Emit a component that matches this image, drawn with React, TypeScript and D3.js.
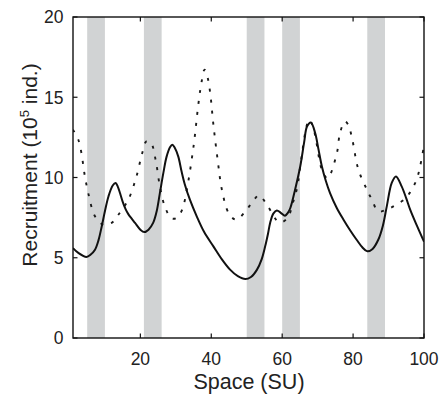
import React from "react";
import * as d3 from "d3";

const bands: [number, number][] = [[5, 10], [21, 26], [50, 55], [60, 65], [84, 89]];

const solidX = [1, 2.5, 4.8, 6.0, 7.2, 8.2, 9.1, 10.0, 11.0, 12.2, 13.0, 13.6, 14.3, 15.0, 15.8, 16.6, 17.5, 18.5, 20.0, 21.1, 22.3, 23.6, 24.6, 25.5, 26.5, 27.4, 28.4, 29.0, 29.7, 30.7, 31.6, 32.5, 34.0, 35.9, 38.0, 40.6, 43.0, 45.3, 47.5, 49.6, 51.2, 52.9, 54.2, 55.2, 56.0, 56.6, 57.5, 58.5, 59.6, 60.8, 61.6, 62.3, 63.7, 65.1, 66.2, 67.0, 68.1, 69.3, 70.2, 71.2, 72.3, 73.5, 75.4, 77.3, 79.2, 81.0, 82.6, 84.0, 85.5, 87.1, 88.4, 89.5, 90.9, 92.1, 93.7, 95.0, 96.1, 98.0, 100];
const solidY = [5.6, 5.3, 5.05, 5.2, 5.5, 6.1, 6.95, 7.9, 8.82, 9.5, 9.66, 9.45, 9.0, 8.5, 8.05, 7.72, 7.45, 7.17, 6.75, 6.6, 6.75, 7.17, 7.9, 9.03, 10.3, 11.3, 11.9, 12.04, 11.85, 11.3, 10.4, 9.6, 8.6, 7.58, 6.6, 5.71, 4.9, 4.26, 3.85, 3.67, 3.8, 4.26, 4.9, 5.71, 6.5, 7.17, 7.75, 7.95, 7.8, 7.62, 7.8, 8.1, 9.3, 10.7, 12.2, 13.18, 13.43, 12.77, 11.8, 10.69, 9.8, 9.03, 8.1, 7.37, 6.7, 6.12, 5.65, 5.4, 5.55, 6.12, 7.0, 8.2, 9.66, 10.07, 9.45, 8.7, 8.0, 7.0, 6.0];

const dottedX = [1, 2.5, 3.4, 4.2, 5.3, 7.2, 9.5, 11.9, 13.8, 16.6, 18.9, 20.5, 21.7, 23.0, 24.3, 25.5, 26.9, 28.8, 30.3, 31.8, 33.1, 35.0, 36.4, 37.3, 38.1, 39.0, 39.7, 40.6, 41.8, 43.0, 44.9, 47.0, 50.0, 52.0, 53.5, 55.7, 59.2, 61.5, 63.0, 64.3, 65.1, 67.0, 67.7, 69.0, 71.2, 72.8, 75.4, 76.3, 77.7, 78.6, 79.6, 81.5, 83.9, 85.3, 87.1, 89.5, 92.1, 94.7, 96.5, 97.9, 98.9, 100];
const dottedY = [12.98, 12.35, 11.5, 10.28, 9.03, 7.58, 7.06, 7.17, 7.68, 8.62, 10.07, 11.5, 12.25, 12.15, 11.1, 9.45, 8.2, 7.45, 7.5, 8.0, 9.24, 11.94, 14.64, 16.0, 16.72, 16.2, 15.26, 13.29, 11.1, 9.24, 7.79, 7.37, 8.0, 8.6, 8.89, 8.3, 7.2, 7.47, 8.4, 9.45, 10.7, 13.3, 13.6, 12.9, 10.49, 9.95, 11.5, 12.77, 13.5, 13.3, 12.56, 10.49, 9.24, 8.62, 7.89, 8.0, 8.3, 8.68, 9.24, 9.86, 10.69, 12.0];

const xTicks = [20, 40, 60, 80, 100];
const yTicks = [0, 5, 10, 15, 20];

const W = 442, H = 397;
const left = 73, right = 424, top = 17, bottom = 338;
const FONT = "'Liberation Sans', Arial, Helvetica, sans-serif";

export default function App() {
  const x = d3.scaleLinear().domain([1, 100]).range([left, right]);
  const y = d3.scaleLinear().domain([0, 20]).range([bottom, top]);
  const line = d3
    .line<[number, number]>()
    .x((d) => x(d[0]))
    .y((d) => y(d[1]))
    .curve(d3.curveCatmullRom.alpha(0.5));
  const solid = line(solidX.map((v, i) => [v, solidY[i]]) as [number, number][]) || "";
  const dotted = line(dottedX.map((v, i) => [v, dottedY[i]]) as [number, number][]) || "";
  const tl = 4.5;

  return (
    <svg width={W} height={H} style={{ position: "absolute", left: 0, top: 0, background: "#fff" }} fontFamily={FONT}>
      <rect x={0} y={0} width={W} height={H} fill="#fff" />
      {bands.map(([a, b], i) => (
        <rect key={i} x={x(a)} y={top} width={x(b) - x(a)} height={bottom - top} fill="#d1d3d4" />
      ))}
      <defs>
        <clipPath id="plot">
          <rect x={left} y={top} width={right - left} height={bottom - top} />
        </clipPath>
      </defs>
      <g clipPath="url(#plot)">
        <path d={dotted} fill="none" stroke="#1a1a1a" strokeWidth={1.9} strokeDasharray="3,8" />
        <path d={solid} fill="none" stroke="#111" strokeWidth={2} />
      </g>
      <rect x={left} y={top} width={right - left} height={bottom - top} fill="none" stroke="#111" strokeWidth={1.4} />
      {xTicks.map((t) => (
        <g key={"x" + t}>
          <line x1={x(t)} x2={x(t)} y1={bottom} y2={bottom - tl} stroke="#111" strokeWidth={1.2} />
          <line x1={x(t)} x2={x(t)} y1={top} y2={top + tl} stroke="#111" strokeWidth={1.2} />
          <text x={x(t)} y={365} textAnchor="middle" fontSize={17.5} fill="#222">{t}</text>
        </g>
      ))}
      {yTicks.map((t) => (
        <g key={"y" + t}>
          <line x1={left} x2={left + tl} y1={y(t)} y2={y(t)} stroke="#111" strokeWidth={1.2} />
          <line x1={right} x2={right - tl} y1={y(t)} y2={y(t)} stroke="#111" strokeWidth={1.2} />
          <text x={63.5} y={y(t)} dy="0.36em" textAnchor="end" fontSize={17.5} fill="#222">{t}</text>
        </g>
      ))}
      <text x={249} y={389} textAnchor="middle" fontSize={21.5} fill="#222">Space (SU)</text>
      <text transform="translate(37,165) rotate(-90)" textAnchor="middle" fontSize={21} fill="#222">
        Recruitment (10<tspan dy={-8} fontSize={13}>5</tspan><tspan dy={8}> ind.)</tspan>
      </text>
    </svg>
  );
}
